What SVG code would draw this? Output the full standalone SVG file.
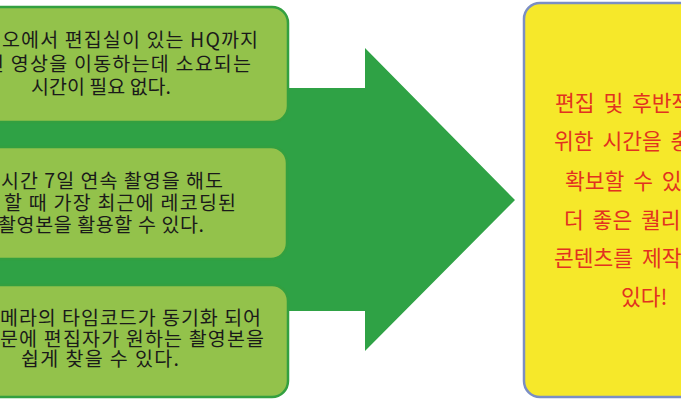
<svg xmlns="http://www.w3.org/2000/svg" width="681" height="400" viewBox="0 0 681 400">
<style>
.bg{fill:#ffffff}
.gbox{fill:#93c24b;stroke:#33a040;stroke-width:2.5}
.ybox{fill:#f6e82a;stroke:#7b8ec4;stroke-width:2.5}
.arrow{fill:#2fa245}
.t{font-family:"Noto Sans CJK KR","Noto Sans",sans-serif;font-size:19.5px;fill:#1a1a1a}
.r{font-family:"Noto Sans CJK KR","Noto Sans",sans-serif;font-size:21.5px;fill:#e2321f;word-spacing:4px}
</style>
<rect class="bg" x="0" y="0" width="681" height="400"/>
<g id="connectors">
<polygon class="arrow" points="-100,88 365,88 365,48 515,200 365,351 365,311 -100,311"/>
</g>
<g id="node1">
<rect class="gbox" x="-88" y="7" width="376" height="115" rx="16"/>
<text class="t" x="2" y="47" textLength="256" lengthAdjust="spacing">오에서 편집실이 있는 HQ까지</text>
<text class="t" x="-14" y="71" textLength="265" lengthAdjust="spacing">된 영상을 이동하는데 소요되는</text>
<text class="t" x="31" y="94" textLength="140" lengthAdjust="spacing">시간이 필요 없다.</text>
</g>
<g id="node2">
<rect class="gbox" x="-88" y="147" width="375" height="112" rx="16"/>
<text class="t" x="1" y="188" textLength="222" lengthAdjust="spacing">시간 7일 연속 촬영을 해도</text>
<text class="t" x="4" y="210" textLength="232" lengthAdjust="spacing">할 때 가장 최근에 레코딩된</text>
<text class="t" x="-2" y="232" textLength="206" lengthAdjust="spacing">촬영본을 활용할 수 있다.</text>
</g>
<g id="node3">
<rect class="gbox" x="-88" y="285" width="376" height="112" rx="16"/>
<text class="t" x="0" y="325" textLength="261" lengthAdjust="spacing">메라의 타임코드가 동기화 되어</text>
<text class="t" x="0" y="346" textLength="264" lengthAdjust="spacing">문에 편집자가 원하는 촬영본을</text>
<text class="t" x="21" y="366" textLength="158" lengthAdjust="spacing">쉽게 찾을 수 있다.</text>
</g>
<g id="result">
<rect class="ybox" x="524" y="3" width="200" height="394" rx="16"/>
<text class="r" x="555" y="111">편집 및 후반작</text>
<text class="r" x="554" y="149">위한 시간을 충</text>
<text class="r" x="565" y="189">확보할 수 있</text>
<text class="r" x="564" y="228">더 좋은 퀄리</text>
<text class="r" x="554" y="266">콘텐츠를 제작</text>
<text class="r" x="621" y="305">있다!</text>
</g>
</svg>
